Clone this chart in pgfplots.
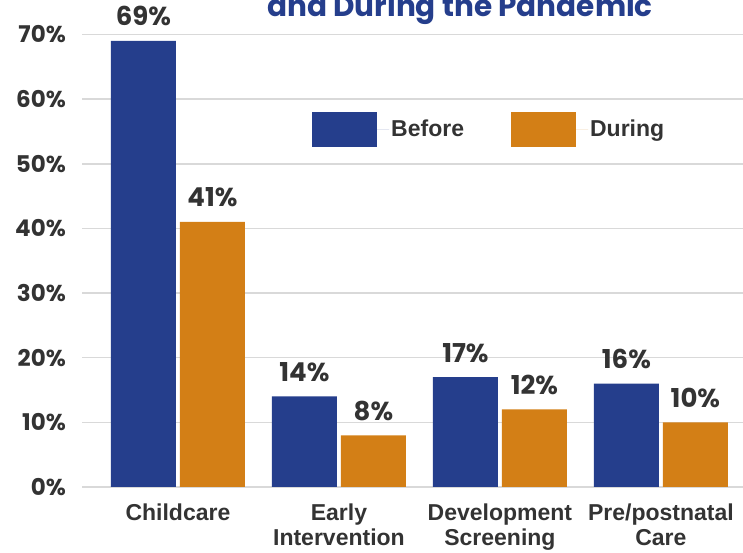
\documentclass[border=0pt]{standalone}
\usepackage{fontspec}
\setmainfont{Liberation Sans}
\newfontfamily\pop{Poppins}
\usepackage{pgfplots}
\pgfplotsset{compat=1.18}
\definecolor{cblue}{HTML}{253E8C}
\definecolor{corange}{HTML}{D37F16}
\definecolor{ctext}{HTML}{333333}
\definecolor{cgrid}{HTML}{D9D9D9}
\pgfplotsset{mylegend/.style={legend image code/.code={\fill[##1,draw=none] (0pt,-17.5pt) rectangle (65pt,17.5pt);\path (0pt,0pt) -- (77pt,0pt);}}}
\begin{document}
\begin{tikzpicture}[x=1pt,y=1pt]
\begin{axis}[
  at={(82pt,66pt)}, anchor=south west,
  scale only axis, width=661pt, height=452.5pt,
  xmin=-0.596, xmax=3.51, ymin=0, ymax=70,
  ybar, bar width=65pt, clip=false,
  xtick={0,1,2,3},
  xticklabels={Childcare, Early\\Intervention, Development\\Screening, Pre/postnatal\\Care},
  xticklabel style={align=center, anchor=north, inner sep=0pt, yshift=-17pt, text=ctext,
    font=\bfseries\fontsize{23}{25}\selectfont},
  ytick={0,10,20,30,40,50,60,70},
  yticklabel={\pgfmathprintnumber{\tick}\%},
  yticklabel style={anchor=east, inner sep=0pt, xshift=-16pt, text=ctext,
    font=\pop\bfseries\fontsize{23}{23}\selectfont},
  /pgf/number format/assume math mode=true,
  ymajorgrids, grid style={cgrid, line width=1.5pt},
  axis line style={draw=none}, major tick length=0pt,
  nodes near coords={\pgfmathprintnumber{\pgfplotspointmeta}\%},
  every node near coord/.append style={font=\pop\bfseries\fontsize{26}{26}\selectfont,
    text=ctext, anchor=base, inner sep=0pt, yshift=15pt},
  legend style={at={(rel axis cs:0.348,0.83)}, anchor=north west, draw=none, fill=none,
    inner sep=0pt, legend columns=2, text=ctext,
    font=\bfseries\fontsize{23}{23}\selectfont,
    /tikz/every even column/.append style={column sep=45pt}},
  legend cell align=left,
]
\addplot[fill=cblue, draw=none, bar shift=-34.5pt, mylegend] coordinates {(0,69) (1,14) (2,17) (3,16)};
\addplot[fill=corange, draw=none, bar shift=34.5pt, mylegend] coordinates {(0,41) (1,8) (2,12) (3,10)};
\legend{Before, During}
\end{axis}
\node[anchor=base, text=cblue, font=\pop\bfseries\fontsize{29.5}{29.5}\selectfont] at (460,536) {and During the Pandemic};
\pgfresetboundingbox
\useasboundingbox (0,0) rectangle (743,553);
\end{tikzpicture}
\end{document}
